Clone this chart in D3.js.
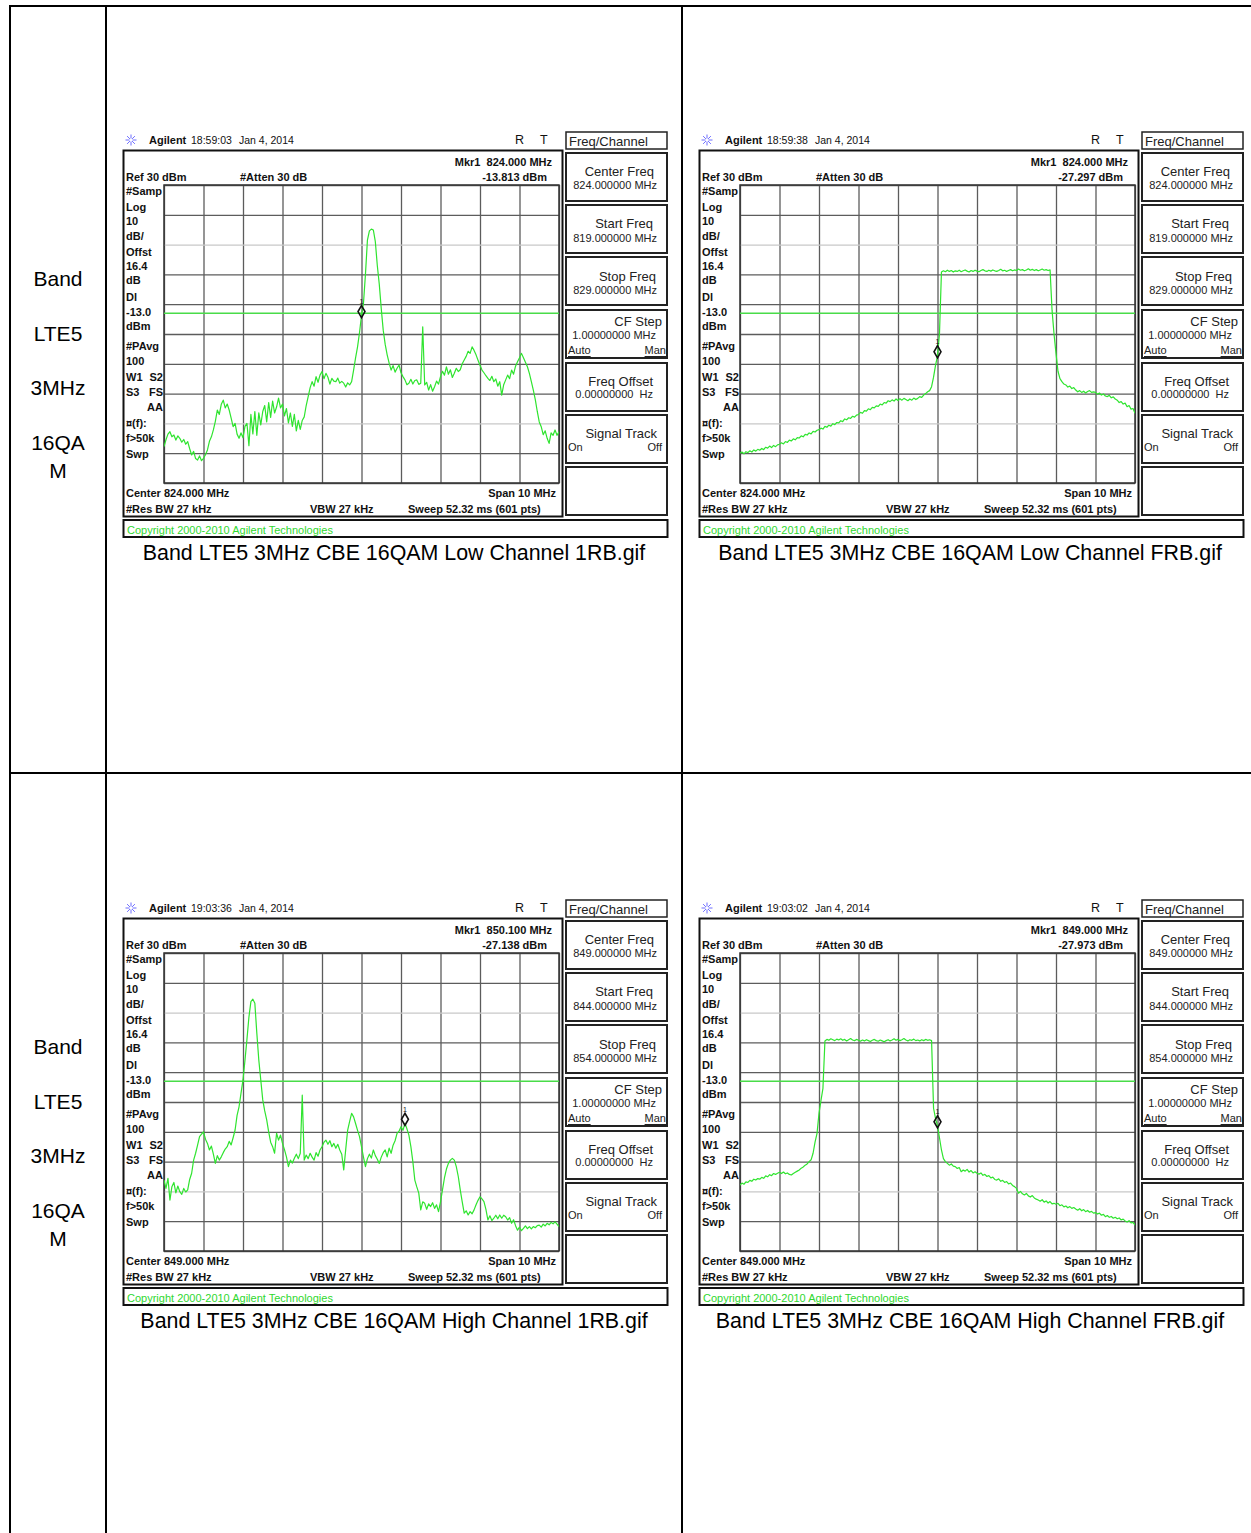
<!DOCTYPE html>
<html><head><meta charset="utf-8">
<script src="https://cdn.jsdelivr.net/npm/d3@7"></script>
<style>
body{margin:0;background:#fff;}
svg{display:block;}
text{font-family:"Liberation Sans",Arial,sans-serif;}
</style></head><body>
<svg id="chart" width="1251" height="1533"></svg>
<script>
// ---------------- DATA ----------------
const rowLabels = ["Band", "LTE5", "3MHz", "16QA", "M"];
const captions = [
  "Band LTE5 3MHz CBE 16QAM Low Channel 1RB.gif",
  "Band LTE5 3MHz CBE 16QAM Low Channel FRB.gif",
  "Band LTE5 3MHz CBE 16QAM High Channel 1RB.gif",
  "Band LTE5 3MHz CBE 16QAM High Channel FRB.gif"
];
const timestamps = ["18:59:03", "18:59:38", "19:03:36", "19:03:02"];
const dateLabel = "Jan 4, 2014";
const centerFreqsMHz = [824, 824, 849, 849];
const spanMHz = 10;
const refLevelDbm = 30;
const dbPerDiv = 10;
const displayLineDbm = -13.0;
const traceStepMHz = 0.05;
const markerFreqsMHz = [824.000, 824.000, 850.100, 849.000];
const markerLevelsDbm = [-13.813, -27.297, -27.138, -27.973];
const markerFreqText = ["824.000 MHz", "824.000 MHz", "850.100 MHz", "849.000 MHz"];
const markerLevelText = ["-13.813 dBm", "-27.297 dBm", "-27.138 dBm", "-27.973 dBm"];

// trace levels in dBm, one value every 0.05 MHz from start to stop frequency
const lowCh1RB = [
  -57.8,-55.5,-53.6,-52.8,-54.5,-53.9,-55.6,-54.2,-55.0,-56.3,
  -55.4,-57.0,-56.1,-58.5,-60.6,-59.4,-61.8,-62.3,-60.9,-62.5,
  -61.7,-60.5,-58.9,-56.0,-54.5,-52.2,-49.3,-45.5,-47.0,-43.6,
  -42.2,-44.8,-43.5,-45.5,-48.2,-51.1,-50.0,-53.6,-55.0,-53.2,
  -54.8,-51.0,-50.0,-57.5,-47.0,-53.5,-46.0,-54.0,-46.5,-50.5,
  -46.0,-44.0,-49.5,-43.0,-48.0,-42.5,-46.5,-44.5,-41.5,-44.8,
  -43.5,-47.5,-45.0,-49.8,-46.5,-51.0,-47.0,-52.5,-49.0,-52.0,
  -49.0,-47.8,-44.0,-41.0,-38.0,-36.0,-37.5,-34.3,-36.2,-33.8,
  -32.6,-35.0,-33.2,-34.5,-36.8,-34.9,-35.8,-36.0,-34.8,-36.5,
  -35.9,-36.5,-37.8,-36.4,-37.1,-36.0,-32.1,-28.0,-24.3,-19.5,
  -13.8,-9.7,0.0,11.5,14.6,15.2,14.9,11.0,3.0,-3.3,
  -11.5,-18.7,-23.5,-27.0,-29.8,-32.1,-30.6,-32.8,-31.5,-30.4,
  -33.0,-34.3,-35.4,-37.0,-36.5,-35.2,-36.8,-35.6,-35.4,-36.9,
  -36.5,-17.6,-37.1,-36.2,-38.8,-37.0,-39.2,-37.7,-35.8,-36.8,
  -34.3,-32.5,-33.8,-31.0,-33.5,-32.0,-34.6,-33.2,-31.5,-32.6,
  -32.0,-30.0,-28.7,-27.5,-25.8,-26.5,-24.3,-25.5,-27.0,-28.8,
  -30.5,-32.1,-33.0,-34.0,-34.9,-35.6,-34.2,-36.0,-35.1,-37.5,
  -36.0,-40.5,-37.0,-35.4,-33.8,-35.0,-32.1,-33.5,-30.8,-29.3,
  -28.0,-26.5,-28.0,-29.5,-31.0,-33.2,-36.0,-38.8,-42.0,-46.0,
  -49.5,-51.1,-53.8,-52.5,-55.0,-56.7,-53.2,-54.0,-52.2,-54.0,-52.8
];
const lowChFRB = [
  -60.0,-59.6,-60.2,-59.5,-59.8,-59.2,-59.6,-58.9,-59.3,-58.7,
  -59.0,-58.4,-58.8,-58.0,-58.3,-57.6,-58.1,-57.4,-57.8,-57.2,
  -57.0,-56.5,-56.9,-56.1,-56.4,-55.6,-55.9,-55.2,-55.5,-54.8,
  -54.9,-54.2,-54.5,-53.7,-53.9,-53.2,-53.5,-52.7,-52.9,-52.3,
  -52.1,-51.6,-51.9,-51.0,-51.3,-50.6,-50.9,-50.1,-50.4,-49.7,
  -49.8,-49.1,-49.4,-48.5,-48.8,-48.1,-48.3,-47.6,-47.9,-47.2,
  -47.0,-46.3,-46.6,-45.7,-45.9,-45.1,-45.4,-44.6,-44.8,-44.1,
  -44.3,-43.5,-43.8,-43.0,-43.2,-42.4,-42.7,-42.1,-42.5,-41.8,
  -42.3,-41.7,-42.2,-41.6,-42.0,-42.4,-41.8,-42.2,-41.5,-42.0,
  -41.6,-41.0,-41.3,-40.5,-40.0,-39.4,-39.0,-37.7,-34.5,-30.5,
  -27.3,-20.0,0.8,1.2,0.9,1.4,1.0,1.3,0.8,1.2,
  1.0,1.4,0.9,1.2,1.5,1.1,0.8,1.3,1.0,1.4,
  1.1,0.9,1.3,1.6,1.2,1.0,1.4,1.1,1.5,1.2,
  1.0,1.3,1.7,1.2,1.4,1.0,1.3,1.6,1.2,1.5,
  1.3,1.8,1.4,1.6,1.2,1.5,1.9,1.4,1.7,1.3,
  1.6,1.2,1.5,1.8,1.4,1.6,1.3,1.5,-12.0,-20.0,
  -26.5,-32.5,-35.0,-36.0,-36.8,-37.1,-37.8,-37.5,-38.3,-38.0,
  -38.8,-39.4,-39.0,-39.6,-39.2,-39.8,-39.3,-39.0,-39.6,-39.4,
  -39.6,-40.2,-39.8,-40.5,-40.1,-40.8,-41.0,-40.6,-41.4,-41.1,
  -41.8,-42.2,-43.0,-42.7,-43.5,-43.2,-44.4,-44.0,-45.2,-45.0,-46.6
];
const highCh1RB = [
  -46.2,-49.0,-45.6,-52.9,-48.4,-47.0,-50.5,-48.2,-50.1,-51.0,
  -49.0,-50.2,-49.5,-46.0,-43.9,-39.5,-37.2,-34.5,-31.6,-30.8,
  -30.0,-32.5,-33.9,-36.1,-34.8,-37.5,-40.6,-38.0,-39.5,-38.4,
  -37.0,-35.8,-35.0,-33.2,-34.4,-32.0,-29.4,-24.5,-21.6,-17.0,
  -12.6,-6.0,1.0,8.5,13.7,14.5,13.1,3.1,-5.9,-12.6,
  -19.3,-23.0,-26.0,-30.0,-33.5,-35.0,-37.2,-30.5,-32.8,-31.1,
  -33.9,-36.0,-38.4,-41.7,-39.5,-40.5,-38.9,-37.5,-39.0,-37.2,
  -17.7,-39.5,-37.8,-39.0,-37.2,-38.5,-39.5,-37.0,-38.2,-36.1,
  -35.0,-33.5,-32.8,-34.2,-33.0,-35.0,-33.9,-35.5,-34.2,-36.1,
  -37.5,-42.8,-36.0,-29.4,-26.5,-23.8,-25.0,-27.2,-29.5,-31.6,
  -35.0,-38.5,-41.7,-39.0,-37.5,-38.8,-36.1,-38.0,-39.2,-40.6,
  -38.5,-37.0,-36.1,-38.4,-35.5,-37.2,-34.5,-33.0,-30.5,-29.8,
  -28.3,-29.5,-27.1,-29.0,-31.1,-35.0,-40.0,-46.2,-48.5,-50.6,
  -56.2,-53.5,-54.0,-56.0,-54.2,-55.1,-53.8,-55.7,-54.5,-56.8,
  -53.5,-49.5,-45.5,-42.5,-40.6,-39.5,-38.9,-39.5,-41.7,-45.0,
  -49.5,-53.5,-57.3,-56.5,-57.9,-56.8,-57.5,-56.2,-54.5,-53.0,
  -51.8,-52.5,-53.4,-56.0,-59.6,-58.2,-59.8,-59.0,-58.0,-59.2,
  -57.9,-59.0,-58.0,-58.5,-59.6,-58.8,-60.7,-59.5,-61.5,-63.0,
  -62.0,-63.2,-62.4,-61.6,-62.5,-61.8,-62.6,-61.8,-62.2,-61.5,
  -61.3,-62.0,-61.0,-61.6,-60.7,-61.2,-60.4,-60.9,-60.2,-61.0,-61.8
];
const highChFRB = [
  -47.9,-47.2,-47.6,-46.8,-47.0,-46.3,-46.6,-45.9,-46.2,-45.7,
  -45.9,-45.3,-45.6,-44.8,-45.1,-44.4,-44.7,-44.0,-44.3,-43.9,
  -43.6,-44.0,-43.5,-44.1,-43.8,-44.3,-44.5,-44.0,-43.6,-43.2,
  -42.8,-42.2,-41.8,-41.2,-40.8,-40.0,-39.4,-37.2,-33.5,-30.5,
  -23.8,-19.5,-15.4,0.5,1.0,0.7,1.2,0.9,0.6,1.1,
  0.8,1.2,0.7,1.0,0.5,0.9,1.3,0.8,0.6,1.0,
  0.7,0.4,0.8,0.5,0.9,0.6,0.3,0.7,1.0,0.6,
  0.4,0.8,0.5,0.2,0.6,0.9,0.5,0.8,1.2,0.7,
  1.0,0.6,0.9,1.3,0.8,0.5,0.9,0.7,1.1,0.6,
  0.8,0.5,0.9,0.6,1.0,0.7,0.9,0.6,-22.1,-25.5,
  -28.0,-32.0,-36.1,-39.0,-40.0,-40.6,-41.2,-40.8,-41.5,-41.7,
  -42.3,-42.0,-43.4,-42.8,-43.2,-42.6,-43.5,-43.0,-43.8,-43.4,
  -43.9,-44.2,-43.8,-44.6,-44.3,-45.0,-44.7,-45.5,-45.2,-46.0,
  -46.2,-45.8,-46.6,-46.3,-47.0,-46.7,-47.5,-47.2,-48.0,-48.4,
  -49.0,-50.6,-50.0,-50.8,-51.2,-50.7,-51.5,-51.9,-51.4,-52.2,
  -52.6,-52.9,-53.3,-52.8,-53.6,-53.2,-53.9,-53.4,-54.2,-54.0,
  -54.3,-54.0,-54.8,-54.5,-55.2,-54.9,-55.5,-55.1,-55.7,-55.4,
  -55.9,-56.3,-55.8,-56.5,-56.1,-56.8,-56.4,-57.0,-56.7,-57.3,
  -57.1,-57.6,-57.3,-58.0,-57.7,-58.5,-58.1,-58.7,-58.4,-59.0,
  -58.7,-59.2,-58.9,-59.6,-59.3,-59.9,-60.3,-59.8,-60.6,-60.4,-61.3
];
const traces = [lowCh1RB, lowChFRB, highCh1RB, highChFRB];

const sideLabels = ["#Samp","Log","10","dB/","Offst","16.4","dB","Dl","-13.0","dBm","#PAvg","100"];
const sideLabels2 = ["¤(f):","f>50k","Swp"];

// ---------------- DRAWING ----------------
const svg = d3.select("#chart");

// table lines
const tableLines = [[10,6,10,1533],[106,6,106,1533],[682,6,682,1533],[9,6,1251,6],[10,773,1251,773]];
svg.append("g").selectAll("line").data(tableLines).join("line")
  .attr("x1", d => d[0]).attr("y1", d => d[1]).attr("x2", d => d[2]).attr("y2", d => d[3])
  .attr("stroke", "#000").attr("stroke-width", 2);

// row labels
const rowLabelY = [278, 333, 387, 442, 470];
[0, 768].forEach(oy => {
  svg.append("g").selectAll("text").data(rowLabels).join("text")
    .attr("x", 58).attr("y", (d, i) => rowLabelY[i] + oy)
    .attr("text-anchor", "middle").attr("dominant-baseline", "central")
    .attr("font-size", 21).attr("fill", "#000").text(d => d);
});

const PLOT = {x: 164, y: 185, w: 395, h: 298};
const origins = [[0,0],[576,0],[0,768],[576,768]];

function txt(g, x, y, s, opt = {}) {
  return g.append("text").attr("x", x).attr("y", y)
    .attr("dominant-baseline", "central")
    .attr("text-anchor", opt.anchor || "start")
    .attr("font-size", opt.size || 11)
    .attr("font-weight", opt.bold ? "bold" : "normal")
    .attr("fill", opt.fill || "#111")
    .attr("text-decoration", opt.underline ? "underline" : null)
    .attr("xml:space", "preserve")
    .text(s);
}

function drawPanel(k) {
  const [ox, oy] = origins[k];
  const g = svg.append("g").attr("transform", `translate(${ox},${oy})`);
  const fc = centerFreqsMHz[k];
  const fStart = fc - spanMHz / 2;

  // header
  const star = g.append("g").attr("transform", "translate(131,140)").attr("stroke", "#6f6fff").attr("stroke-width", 1);
  d3.range(8).forEach(i => {
    const a = i * Math.PI / 4;
    star.append("line").attr("x1", 1.5 * Math.cos(a)).attr("y1", 1.5 * Math.sin(a))
      .attr("x2", 5.5 * Math.cos(a)).attr("y2", 5.5 * Math.sin(a));
  });
  txt(g, 149, 140, "Agilent", {size: 11, bold: true});
  txt(g, 191, 140, timestamps[k], {size: 10.5});
  txt(g, 239, 140, dateLabel, {size: 10.5});
  txt(g, 515, 140, "R", {size: 12.5});
  txt(g, 540, 140, "T", {size: 12.5});

  // main frame
  g.append("rect").attr("x", 123.5).attr("y", 150.5).attr("width", 439).attr("height", 366)
    .attr("fill", "#fff").attr("stroke", "#111").attr("stroke-width", 2);
  // copyright bar
  g.append("rect").attr("x", 123.5).attr("y", 520).attr("width", 544).attr("height", 17)
    .attr("fill", "#fff").attr("stroke", "#111").attr("stroke-width", 2);
  txt(g, 127, 530, "Copyright 2000-2010 Agilent Technologies", {size: 11, fill: "#2fd82f"});

  // soft keys
  g.append("rect").attr("x", 566).attr("y", 132).attr("width", 101).attr("height", 17)
    .attr("fill", "#fff").attr("stroke", "#222").attr("stroke-width", 1.5);
  txt(g, 569, 141, "Freq/Channel", {size: 13, fill: "#222"});
  const keyTops = [153, 205, 257, 310, 363, 415, 467];
  g.append("g").selectAll("rect").data(keyTops).join("rect")
    .attr("x", 566).attr("y", d => d).attr("width", 101).attr("height", 48)
    .attr("fill", "#fff").attr("stroke", "#222").attr("stroke-width", 2);
  const fmt6 = v => v.toFixed(6) + " MHz";
  txt(g, 654, 171, "Center Freq", {size: 13, anchor: "end", fill: "#222"});
  txt(g, 657, 185, fmt6(fc), {size: 11, anchor: "end", fill: "#222"});
  txt(g, 653, 223, "Start Freq", {size: 13, anchor: "end", fill: "#222"});
  txt(g, 657, 238, fmt6(fc - spanMHz / 2), {size: 11, anchor: "end", fill: "#222"});
  txt(g, 656, 276, "Stop Freq", {size: 13, anchor: "end", fill: "#222"});
  txt(g, 657, 290, fmt6(fc + spanMHz / 2), {size: 11, anchor: "end", fill: "#222"});
  txt(g, 662, 321, "CF Step", {size: 13, anchor: "end", fill: "#222"});
  txt(g, 656, 335, "1.00000000 MHz", {size: 11, anchor: "end", fill: "#222"});
  txt(g, 568, 350, "Auto", {size: 11, fill: "#222", underline: true});
  txt(g, 666, 350, "Man", {size: 11, anchor: "end", fill: "#222", underline: true});
  txt(g, 653, 381, "Freq Offset", {size: 13, anchor: "end", fill: "#222"});
  txt(g, 653, 394, "0.00000000  Hz", {size: 11, anchor: "end", fill: "#222"});
  txt(g, 657, 433, "Signal Track", {size: 13, anchor: "end", fill: "#222"});
  txt(g, 568, 447, "On", {size: 11, fill: "#222"});
  txt(g, 662, 447, "Off", {size: 11, anchor: "end", fill: "#222"});

  // frame annotations
  txt(g, 552, 162, "Mkr1  " + markerFreqText[k], {bold: true, anchor: "end"});
  txt(g, 126, 177, "Ref 30 dBm", {bold: true});
  txt(g, 240, 177, "#Atten 30 dB", {bold: true});
  txt(g, 547, 177, markerLevelText[k], {bold: true, anchor: "end"});
  const sideY = [191, 207, 221, 236, 252, 266, 280, 297, 312, 326, 346, 361];
  sideLabels.forEach((s, i) => txt(g, 126, sideY[i], s, {bold: true}));
  txt(g, 126, 377, "W1", {bold: true});
  txt(g, 163, 377, "S2", {bold: true, anchor: "end"});
  txt(g, 126, 392, "S3", {bold: true});
  txt(g, 163, 392, "FS", {bold: true, anchor: "end"});
  txt(g, 163, 407, "AA", {bold: true, anchor: "end"});
  const sideY2 = [423, 438, 454];
  sideLabels2.forEach((s, i) => txt(g, 126, sideY2[i], s, {bold: true}));
  txt(g, 126, 493, "Center " + fc.toFixed(3) + " MHz", {bold: true});
  txt(g, 556, 493, "Span " + spanMHz + " MHz", {bold: true, anchor: "end"});
  txt(g, 126, 509, "#Res BW 27 kHz", {bold: true});
  txt(g, 310, 509, "VBW 27 kHz", {bold: true});
  txt(g, 408, 509, "Sweep 52.32 ms (601 pts)", {bold: true});

  // plot
  const plot = g.append("g").attr("transform", `translate(${PLOT.x},${PLOT.y})`);
  const x = d3.scaleLinear().domain([fStart, fc + spanMHz / 2]).range([0, PLOT.w]);
  const y = d3.scaleLinear().domain([refLevelDbm - 10 * dbPerDiv, refLevelDbm]).range([PLOT.h, 0]);
  const xTicks = d3.range(11).map(i => fStart + i * spanMHz / 10);
  const yTicks = d3.range(11).map(i => refLevelDbm - i * dbPerDiv);

  plot.append("rect").attr("width", PLOT.w).attr("height", PLOT.h).attr("fill", "#fff");
  plot.append("g").attr("transform", `translate(0,${PLOT.h})`)
    .call(d3.axisBottom(x).tickValues(xTicks).tickSize(-PLOT.h).tickFormat(""))
    .call(s => s.select(".domain").remove())
    .selectAll(".tick line").attr("stroke", "#5c5c5c").attr("stroke-width", 1.3);
  plot.append("g")
    .call(d3.axisLeft(y).tickValues(yTicks).tickSize(-PLOT.w).tickFormat(""))
    .call(s => s.select(".domain").remove())
    .selectAll(".tick line")
    .attr("stroke", d => (d === 10 || d === -50) ? "#c8c8c8" : "#5c5c5c").attr("stroke-width", 1.3);
  plot.append("rect").attr("width", PLOT.w).attr("height", PLOT.h)
    .attr("fill", "none").attr("stroke", "#333").attr("stroke-width", 1.5);

  const clipId = "clip" + k;
  plot.append("clipPath").attr("id", clipId).append("rect")
    .attr("x", 0).attr("y", -1).attr("width", PLOT.w).attr("height", PLOT.h + 2);

  plot.append("line").attr("x1", 0).attr("x2", PLOT.w)
    .attr("y1", y(displayLineDbm)).attr("y2", y(displayLineDbm))
    .attr("stroke", "#49dc49").attr("stroke-width", 1.5);

  const line = d3.line().x((d, i) => x(fStart + i * traceStepMHz)).y(d => y(d));
  plot.append("path").datum(traces[k]).attr("clip-path", `url(#${clipId})`)
    .attr("d", line).attr("fill", "none").attr("stroke", "#2fe42f").attr("stroke-width", 1.2)
    .attr("stroke-linejoin", "round");

  // marker
  const mx = x(markerFreqsMHz[k]), my = y(markerLevelsDbm[k]);
  plot.append("path").attr("d", d3.symbol(d3.symbolDiamond, 42)())
    .attr("transform", `translate(${mx},${my - 4})`)
    .attr("fill", "none").attr("stroke", "#111").attr("stroke-width", 1.6);
  plot.append("text").attr("x", mx).attr("y", my - 14).attr("text-anchor", "middle")
    .attr("dominant-baseline", "central").attr("font-size", 7).attr("fill", "#111").text("1");

  // caption
  svg.append("text").attr("x", ox + 394).attr("y", oy + 553)
    .attr("text-anchor", "middle").attr("dominant-baseline", "central")
    .attr("font-size", 21.4).attr("fill", "#000").text(captions[k]);
}

d3.range(4).forEach(drawPanel);
</script>
</body></html>
